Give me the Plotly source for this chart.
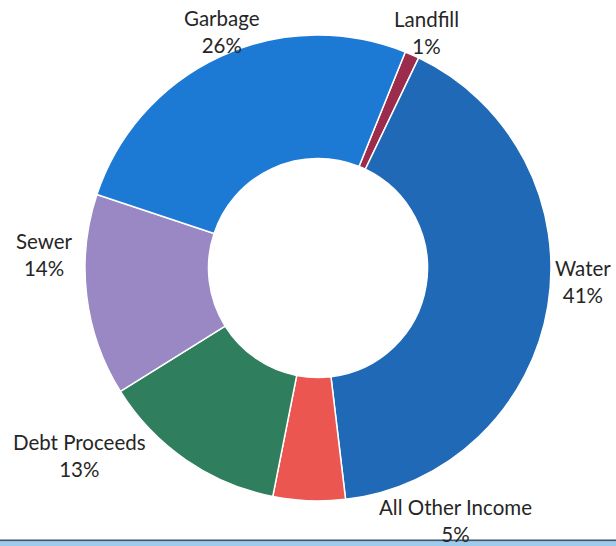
import plotly.graph_objects as go

# Revenue sources, listed clockwise starting at Landfill
categories = ["Landfill", "Water", "All Other Income", "Debt Proceeds", "Sewer", "Garbage"]
shares = [1, 41, 5, 13, 14, 26]
colors = ["#9c2c4c", "#1f69b6", "#ec5651", "#2f7f5f", "#9a88c4", "#1d7ad4"]

# Label anchor positions in pixels (x from left, y from top) for each category
label_px = {
    "Landfill": (426, 32),
    "Water": (583, 281),
    "All Other Income": (455, 520),
    "Debt Proceeds": (79, 455),
    "Sewer": (44, 254),
    "Garbage": (222, 31),
}

W, H = 616, 546

fig = go.Figure(
    go.Pie(
        labels=categories,
        values=shares,
        hole=0.47,
        sort=False,
        direction="clockwise",
        rotation=22,
        marker=dict(colors=colors, line=dict(color="white", width=1.5)),
        textinfo="none",
        hoverinfo="label+percent",
        domain=dict(x=[85 / W, 551 / W], y=[45 / H, 511 / H]),
        showlegend=False,
    )
)

total = sum(shares)
for cat, val in zip(categories, shares):
    x, y = label_px[cat]
    fig.add_annotation(
        x=x / W, y=1 - y / H, xref="paper", yref="paper",
        text=f"{cat}<br>{round(100 * val / total)}%",
        showarrow=False, xanchor="center", yanchor="middle",
        font=dict(family="Lato, Open Sans, sans-serif", size=20.5, color="#262626"),
        align="center",
    )

# Rule along the bottom edge
fig.add_shape(type="rect", xref="paper", yref="paper", x0=0, x1=1,
              y0=1 - 541.5 / H, y1=1 - 539.5 / H, fillcolor="#3d5573", line_width=0, layer="below")
fig.add_shape(type="rect", xref="paper", yref="paper", x0=0, x1=1,
              y0=0, y1=1 - 541.5 / H, fillcolor="#9ccbeb", line_width=0, layer="below")

fig.update_layout(
    width=W, height=H,
    margin=dict(l=0, r=0, t=0, b=0),
    paper_bgcolor="white", plot_bgcolor="white",
)

fig.write_html("out.html")
